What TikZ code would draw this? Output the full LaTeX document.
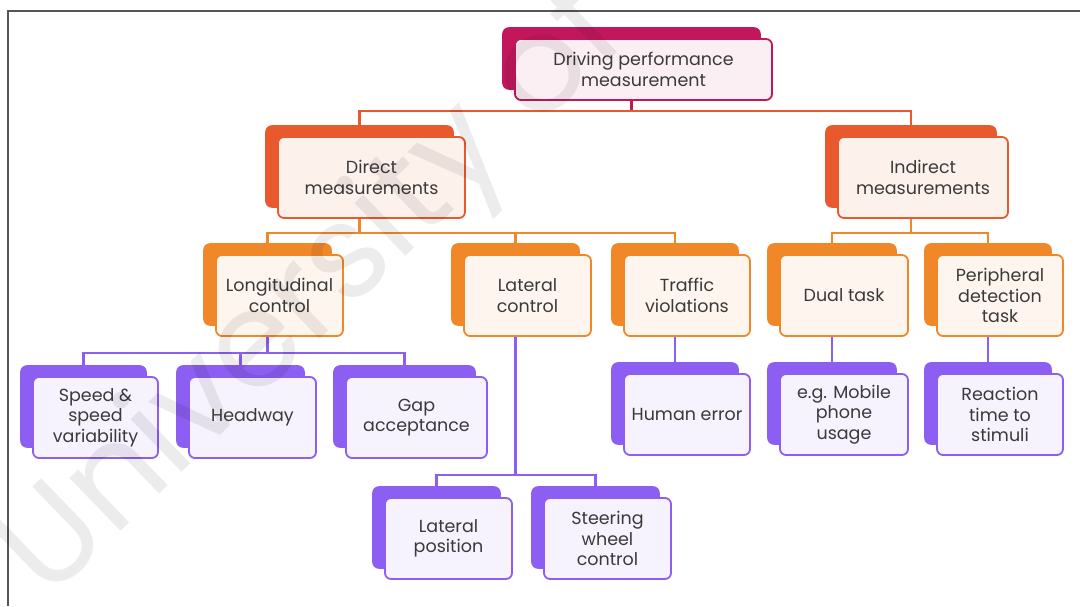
\documentclass[tikz,border=0pt]{standalone}
\usepackage{fontspec}
\setmainfont{Poppins}
\definecolor{cmag}{HTML}{C2185B}
\definecolor{cmagl}{HTML}{FCEFF4}
\definecolor{cred}{HTML}{E85A2E}
\definecolor{credl}{HTML}{FDF1EC}
\definecolor{corg}{HTML}{F0882A}
\definecolor{corgl}{HTML}{FEF6EE}
\definecolor{cpur}{HTML}{8C5EF2}
\definecolor{cpurl}{HTML}{F6F2FE}
\definecolor{ctext}{HTML}{3A3A3A}
\definecolor{cframe}{HTML}{555555}
\tikzset{
  backbox/.style={draw=#1, fill=#1, rounded corners=6pt, line width=1.6pt, inner sep=0pt},
  frontbox/.style={draw=#1, rounded corners=6pt, line width=1.8pt, inner sep=2pt,
    align=center, text=ctext, font=\fontsize{17.5}{20.5}\selectfont},
  conn/.style={draw=#1, line width=2.1pt},
}
% double box: #1 name, #2 colour, #3 light fill, #4/#5 centre of the back plate,
% #6 width, #7 height, #8 label
\newcommand\dblbox[8]{%
  \node[backbox=#2, minimum width=#6pt, minimum height=#7pt] (#1-b) at (#4,#5) {};
  \node[frontbox=#2, fill=#3, minimum width=#6pt, minimum height=#7pt]
    (#1) at ([shift={(12,11)}]#1-b.center) {#8};
}
\begin{document}
\begin{tikzpicture}[x=1pt,y=-1pt]
\useasboundingbox (0,0) rectangle (1080,606);
\fill[white] (0,0) rectangle (1080,606);
\draw[cframe, line width=1.2pt] (1080,11) -- (8,11) -- (8,606);

% ----- level 0
\dblbox{top}{cmag}{cmagl}{631.5}{58.5}{257}{61}{Driving performance\\measurement}
% ----- level 1
\dblbox{direct}{cred}{credl}{359.5}{166.5}{187}{81}{Direct\\measurements}
\dblbox{indirect}{cred}{credl}{911}{166.5}{170}{81}{Indirect\\measurements}
% ----- level 2
\dblbox{long}{corg}{corgl}{267.5}{284.5}{127}{81}{Longitudinal\\control}
\dblbox{latctl}{corg}{corgl}{515.5}{284.5}{127}{81}{Lateral\\control}
\dblbox{traffic}{corg}{corgl}{675}{284.5}{126}{81}{Traffic\\violations}
\dblbox{dual}{corg}{corgl}{832}{284.5}{128}{81}{Dual task}
\dblbox{periph}{corg}{corgl}{988}{284.5}{126}{81}{Peripheral\\detection\\task}
% ----- level 3
\dblbox{speed}{cpur}{cpurl}{83.5}{406.5}{125}{81}{Speed \&\\speed\\variability}
\dblbox{headway}{cpur}{cpurl}{240.5}{406.5}{127}{81}{Headway}
\dblbox{gap}{cpur}{cpurl}{404.5}{406.5}{141}{81}{Gap\\acceptance}
\dblbox{human}{cpur}{cpurl}{675}{403.5}{126}{81}{Human error}
\dblbox{mobile}{cpur}{cpurl}{832}{403.5}{128}{81}{e.g. Mobile\\phone\\usage}
\dblbox{reaction}{cpur}{cpurl}{988}{403.5}{126}{81}{Reaction\\time to\\stimuli}
\dblbox{latpos}{cpur}{cpurl}{436.5}{527.5}{127}{81}{Lateral\\position}
\dblbox{steer}{cpur}{cpurl}{595.5}{527.5}{127}{81}{Steering\\wheel\\control}

% ----- junction points of the connector buses
\path (top-b.south) ++(0,21) coordinate (tj);
\path (direct-b.south) ++(0,25) coordinate (dj);
\path (indirect-b.south) ++(0,25) coordinate (ij);
\path (long-b.south) ++(0,27) coordinate (lj);
\path (latctl-b.south) ++(0,149) coordinate (cj);

% ----- connectors (between plates, outside the boxes)
\draw[conn=cmag] (top.south -| top-b.south) -- (tj);
\draw[conn=cred] (direct-b.north) |- (tj) -| (indirect-b.north);
\draw[conn=corg] (direct.south -| direct-b.south) -- (dj);
\draw[conn=corg] (long-b.north) |- (dj) -| (traffic-b.north);
\draw[conn=corg] (dj) -| (latctl-b.north);
\draw[conn=corg] (indirect.south -| indirect-b.south) -- (ij);
\draw[conn=corg] (dual-b.north) |- (ij) -| (periph-b.north);
\draw[conn=cpur] (long.south -| long-b.south) -- (lj);
\draw[conn=cpur] (speed-b.north) |- (lj) -| (gap-b.north);
\draw[conn=cpur] (lj) -| (headway-b.north);
\draw[conn=cpur] (latctl.south -| latctl-b.south) -- (cj);
\draw[conn=cpur] (latpos-b.north) |- (cj) -| (steer-b.north);
\draw[conn=cpur] (traffic.south -| traffic-b.south) -- (human-b.north);
\draw[conn=cpur] (dual.south -| dual-b.south) -- (mobile-b.north);
\draw[conn=cpur] (periph.south -| periph-b.south) -- (reaction-b.north);

% ----- faint diagonal watermark over everything
\node[rotate=44, text=black, opacity=0.075,
      font=\fontsize{134}{134}\selectfont] (wm) at (316,296) {University of};
\end{tikzpicture}
\end{document}
